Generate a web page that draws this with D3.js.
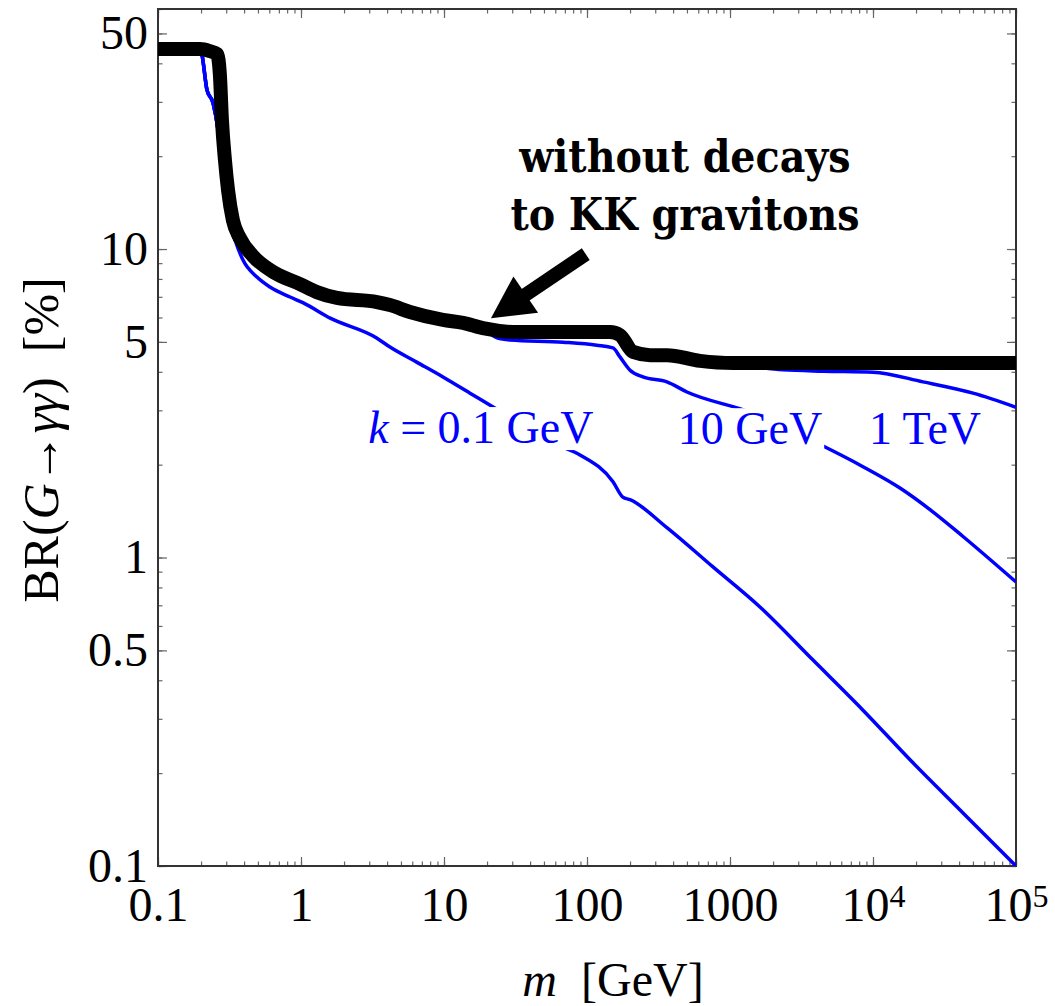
<!DOCTYPE html>
<html>
<head>
<meta charset="utf-8">
<script src="https://cdn.jsdelivr.net/npm/d3@7"></script>
<style>
  body { margin: 0; background: #fff; }
  svg { display: block; }
</style>
</head>
<body>
<script>
// ---- data (m in GeV, BR in %) ----
const massNoKK = [0.1, 0.197, 0.231, 0.259, 0.271, 0.28, 0.294, 0.309, 0.334, 0.374, 0.462, 0.658, 0.984,
  1.29, 1.785, 3.4, 4.19, 5.78, 9.84, 13.6, 18.7, 32.4, 145, 170, 210, 276, 362, 617, 1050, 1e5];
const brNoKK = [44.5, 44.5, 43.8, 42.9, 36.6, 26.2, 19.4, 15.5, 12.4, 10.86, 9.49, 8.36, 7.7,
  7.25, 6.94, 6.73, 6.58, 6.25, 5.89, 5.76, 5.54, 5.38, 5.38, 5.26, 4.64, 4.53, 4.53, 4.34, 4.27, 4.27];

const massK01 = [0.1, 0.197, 0.203, 0.22, 0.243, 0.263, 0.285, 0.309, 0.346, 0.393, 0.492, 0.607, 0.838, 1.03,
  1.6, 3.38, 4.19, 6.44, 9.84, 15.2, 25.9, 61.7, 89.3, 152, 178, 200, 362, 760, 1620, 3806, 8511, 19040, 42600, 1e5];
const brK01 = [44.5, 44.5, 42.6, 32.8, 29.7, 24.3, 16.7, 12.9, 10.7, 9.21, 8.11, 7.53, 6.99, 6.7,
  5.97, 5.15, 4.81, 4.3, 3.85, 3.41, 2.94, 2.32, 2.15, 1.76, 1.57, 1.54, 1.25, 0.932, 0.691, 0.465, 0.32, 0.216, 0.1486, 0.1];

const massK10 = [0.1, 0.197, 0.203, 0.22, 0.243, 0.263, 0.285, 0.309, 0.346, 0.462, 0.658, 0.984,
  1.29, 1.785, 3.4, 4.19, 5.78, 9.84, 13.6, 18.7, 23.5, 28.9, 68, 117, 152, 170, 200, 246, 362, 500, 1380,
  4060, 8511, 15440, 25030, 42600, 1e5];
const brK10 = [44.5, 44.5, 42.6, 32.8, 29.7, 24.3, 16.7, 12.9, 10.7, 9.4, 8.3, 7.65,
  7.2, 6.9, 6.7, 6.55, 6.22, 5.86, 5.73, 5.5, 5.15, 5.07, 4.99, 4.88, 4.78, 4.47, 4.05, 3.85, 3.71, 3.44, 2.96,
  2.35, 1.97, 1.68, 1.43, 1.17, 0.833];

const massK1000 = [0.1, 0.197, 0.203, 0.22, 0.243, 0.263, 0.285, 0.309, 0.346, 0.462, 0.658, 0.984,
  1.29, 1.785, 3.4, 4.19, 5.78, 9.84, 13.6, 18.7, 32.4, 145, 170, 210, 276, 362, 617, 1050, 2347, 4500,
  10000, 22370, 50050, 1e5];
const brK1000 = [44.5, 44.5, 42.6, 32.8, 29.7, 24.3, 16.7, 12.9, 10.7, 9.4, 8.3, 7.65,
  7.2, 6.9, 6.7, 6.55, 6.22, 5.86, 5.73, 5.5, 5.35, 5.35, 5.22, 4.6, 4.5, 4.5, 4.31, 4.22, 4.06, 4.02,
  3.99, 3.71, 3.41, 3.07];

const xDomain = [0.1, 1e5];
const yDomain = [0.1, 60];
const xMajor = [0.1, 1, 10, 100, 1000, 1e4, 1e5];
const xMajorLabels = ["0.1", "1", "10", "100", "1000", "10^4", "10^5"];
const yMajor = [0.1, 0.5, 1, 5, 10, 50];
const yMajorLabels = ["0.1", "0.5", "1", "5", "10", "50"];

const curveLabels = [
  { m: 18.1, br: 2.35, text: "0.1 GeV", prefix: true },
  { m: 1380, br: 2.33, text: "10 GeV", prefix: false },
  { m: 23100, br: 2.33, text: "1 TeV", prefix: false }
];

let margin = null, width = null, height = null;
let svg = null, plot = null;
let x, y = null;

const serif = "'Liberation Serif', 'Times New Roman', serif";

main();

function main() {
  setupCanvasSize();
  appendSvg("body");
  setupScales();
  appendAxes();
  appendCurves();
  appendCurveLabels();
  appendAnnotation();
  appendAxisTitles();
}

function setupCanvasSize() {
  margin = { top: 9, left: 158, bottom: 140, right: 39 };
  width = 1055 - margin.left - margin.right;
  height = 1006 - margin.top - margin.bottom;
}

function appendSvg(domElement) {
  svg = d3.select(domElement).append("svg")
    .attr("width", width + margin.left + margin.right)
    .attr("height", height + margin.top + margin.bottom);
  plot = svg.append("g")
    .attr("transform", `translate(${margin.left}, ${margin.top})`);
  svg.append("defs").append("clipPath").attr("id", "clip")
    .append("rect").attr("width", width).attr("height", height);
}

function setupScales() {
  x = d3.scaleLog().domain(xDomain).range([0, width]);
  y = d3.scaleLog().domain(yDomain).range([height, 0]);
}

function minorTicks(domain) {
  const out = [];
  for (let e = -1; e <= 5; e++) {
    for (let k = 1; k <= 9; k++) {
      const v = k * Math.pow(10, e);
      if (v >= domain[0] * 0.999 && v <= domain[1] * 1.001) out.push(v);
    }
  }
  return out;
}

function styleAxis(g) {
  g.select(".domain").remove();
  g.selectAll(".tick line").attr("stroke", "#666").attr("stroke-width", 1.2);
  g.selectAll("text").attr("font-family", serif).attr("font-size", 48).attr("fill", "#000");
}

function appendAxes() {
  const xMinor = minorTicks(xDomain);
  const yMinor = minorTicks(yDomain);

  // minor ticks on all four sides
  plot.append("g").attr("transform", `translate(0, ${height})`)
    .call(d3.axisBottom(x).tickValues(xMinor).tickSize(-4.5).tickFormat("")).call(styleAxis);
  plot.append("g")
    .call(d3.axisTop(x).tickValues(xMinor).tickSize(-4.5).tickFormat("")).call(styleAxis);
  plot.append("g")
    .call(d3.axisLeft(y).tickValues(yMinor).tickSize(-4.5).tickFormat("")).call(styleAxis);
  plot.append("g").attr("transform", `translate(${width}, 0)`)
    .call(d3.axisRight(y).tickValues(yMinor).tickSize(-4.5).tickFormat("")).call(styleAxis);

  // major ticks
  const xb = plot.append("g").attr("transform", `translate(0, ${height})`)
    .call(d3.axisBottom(x).tickValues(xMajor).tickSize(-9).tickPadding(21)
      .tickFormat((d, i) => xMajorLabels[i])).call(styleAxis);
  xb.selectAll("text").each(function (d, i) {
    const lab = xMajorLabels[i];
    if (lab.includes("^")) {
      const [base, exp] = lab.split("^");
      const t = d3.select(this).text(null);
      t.append("tspan").text(base);
      t.append("tspan").attr("dy", "-0.45em").attr("font-size", 32).text(exp);
    }
  });
  plot.append("g")
    .call(d3.axisTop(x).tickValues(xMajor).tickSize(-9).tickFormat("")).call(styleAxis);
  plot.append("g")
    .call(d3.axisLeft(y).tickValues(yMajor).tickSize(-9).tickPadding(10)
      .tickFormat((d, i) => yMajorLabels[i])).call(styleAxis);
  plot.append("g").attr("transform", `translate(${width}, 0)`)
    .call(d3.axisRight(y).tickValues(yMajor).tickSize(-9).tickFormat("")).call(styleAxis);

  // frame
  plot.append("rect")
    .attr("width", width).attr("height", height)
    .attr("fill", "none").attr("stroke", "#333").attr("stroke-width", 2);
}

function zipSeries(ms, brs) {
  return ms.map((m, i) => ({ m: m, br: brs[i] }));
}

function appendCurves() {
  const line = d3.line()
    .x(d => x(d.m))
    .y(d => y(d.br))
    .curve(d3.curveMonotoneX);

  const g = plot.append("g").attr("clip-path", "url(#clip)");
  [[massK01, brK01], [massK10, brK10], [massK1000, brK1000]].forEach(s => {
    g.append("path")
      .datum(zipSeries(s[0], s[1]))
      .attr("fill", "none")
      .attr("stroke", "#0000ff")
      .attr("stroke-width", 3.5)
      .attr("stroke-linejoin", "round")
      .attr("d", line);
  });

  g.append("path")
    .datum(zipSeries(massNoKK, brNoKK))
    .attr("fill", "none")
    .attr("stroke", "#000")
    .attr("stroke-width", 14)
    .attr("stroke-linejoin", "round")
    .attr("d", line);
}

function appendCurveLabels() {
  curveLabels.forEach(c => {
    const g = plot.append("g");
    const t = g.append("text")
      .attr("x", x(c.m)).attr("y", y(c.br))
      .attr("text-anchor", "middle")
      .attr("font-family", serif)
      .attr("font-size", 46)
      .attr("fill", "#0000ff");
    if (c.prefix) {
      t.append("tspan").attr("font-style", "italic").text("k");
      t.append("tspan").text(" = " + c.text);
    } else {
      t.text(c.text);
    }
    const bb = t.node().getBBox();
    g.insert("rect", "text")
      .attr("x", bb.x - 2).attr("y", bb.y + 5)
      .attr("width", bb.width + 4).attr("height", bb.height - 8)
      .attr("fill", "#fff");
  });
}

function appendAnnotation() {
  // arrow from text to the black curve (in data coordinates)
  const tail = [98, 9.63], tip = [21.3, 5.97];
  const x1 = x(tail[0]), y1 = y(tail[1]), x2 = x(tip[0]), y2 = y(tip[1]);
  const ang = Math.atan2(y2 - y1, x2 - x1);
  const headLen = 42, headW = 22;
  const bx = x2 - headLen * Math.cos(ang), by = y2 - headLen * Math.sin(ang);
  plot.append("line")
    .attr("x1", x1).attr("y1", y1).attr("x2", bx + 2 * Math.cos(ang)).attr("y2", by + 2 * Math.sin(ang))
    .attr("stroke", "#000").attr("stroke-width", 14);
  const px = -Math.sin(ang), py = Math.cos(ang);
  plot.append("path")
    .attr("d", `M${x2},${y2} L${bx + headW * px},${by + headW * py} L${bx - headW * px},${by - headW * py} Z`)
    .attr("fill", "#000");

  const lines = ["without decays", "to KK gravitons"];
  const t = plot.append("text")
    .attr("x", x(484)).attr("y", y(17.8))
    .attr("text-anchor", "middle")
    .attr("font-family", "'DejaVu Serif Condensed', 'DejaVu Serif', serif")
    .attr("font-stretch", "condensed")
    .attr("font-weight", "bold")
    .attr("font-size", 44);
  lines.forEach((l, i) => {
    t.append("tspan").attr("x", x(484)).attr("dy", i === 0 ? 0 : 58).text(l);
  });
}

function appendAxisTitles() {
  const xt = svg.append("text")
    .attr("x", 613)
    .attr("y", 996)
    .attr("text-anchor", "middle")
    .attr("font-family", serif)
    .attr("font-size", 48);
  xt.append("tspan").attr("font-style", "italic").text("m");
  xt.append("tspan").text("\u00a0\u00a0[GeV]");

  const yt = svg.append("text")
    .attr("transform", `translate(58, ${margin.top + 431}) rotate(-90)`)
    .attr("text-anchor", "middle")
    .attr("font-family", serif)
    .attr("font-size", 50);
  yt.append("tspan").text("BR(");
  yt.append("tspan").attr("font-style", "italic").text("G");
  yt.append("tspan").text("\u2192");
  yt.append("tspan").attr("font-style", "italic").text("\u03b3\u03b3");
  yt.append("tspan").text(")\u00a0\u00a0[%]");
}
</script>
</body>
</html>
